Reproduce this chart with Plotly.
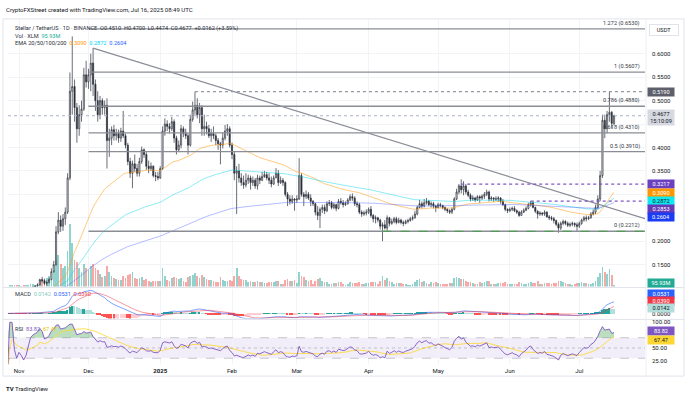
import pandas as pd
import plotly.graph_objects as go

W, H = 687, 398
FONT = "Roboto, 'Liberation Sans', sans-serif"
TXT = "#131722"

# ------------------------------------------------------------------ data
start_date = "2024-10-27"

close_oct = [0.093, 0.094, 0.095, 0.093, 0.091]
high_oct = [0.094, 0.095, 0.097, 0.096, 0.094]
low_oct = [0.091, 0.092, 0.093, 0.092, 0.090]
vol_oct = [60, 70, 80, 70, 60]

close_nov = [0.092, 0.091, 0.089, 0.090, 0.093, 0.099, 0.102, 0.104, 0.107, 0.118,
             0.116, 0.110, 0.112, 0.118, 0.135, 0.150, 0.220, 0.245, 0.232, 0.248,
             0.262, 0.335, 0.520, 0.530, 0.485, 0.440, 0.470, 0.482, 0.555, 0.540]
high_nov = [0.093, 0.093, 0.092, 0.091, 0.094, 0.101, 0.104, 0.106, 0.110, 0.120,
            0.124, 0.120, 0.116, 0.122, 0.142, 0.158, 0.232, 0.262, 0.255, 0.258,
            0.272, 0.345, 0.560, 0.637, 0.545, 0.495, 0.490, 0.500, 0.570, 0.585]
low_nov = [0.089, 0.090, 0.087, 0.088, 0.089, 0.093, 0.098, 0.101, 0.103, 0.106,
           0.112, 0.107, 0.105, 0.110, 0.117, 0.133, 0.148, 0.215, 0.220, 0.222,
           0.235, 0.258, 0.330, 0.470, 0.455, 0.410, 0.425, 0.455, 0.478, 0.528]
vol_nov = [60, 50, 60, 70, 90, 120, 110, 100, 110, 300, 350, 250, 400, 500, 700,
           800, 1300, 1500, 1100, 900, 1000, 1700, 3000, 2100, 1300, 1200, 900, 700, 1100, 900]

close_dec = [0.555, 0.580, 0.535, 0.500, 0.470, 0.500, 0.485, 0.490, 0.415, 0.420,
             0.438, 0.425, 0.430, 0.420, 0.435, 0.425, 0.405, 0.370, 0.345, 0.365,
             0.355, 0.345, 0.370, 0.395, 0.385, 0.360, 0.355, 0.360, 0.340, 0.338, 0.335]
high_dec = [0.568, 0.600, 0.612, 0.545, 0.520, 0.510, 0.505, 0.500, 0.505, 0.440,
            0.445, 0.448, 0.440, 0.438, 0.442, 0.478, 0.430, 0.410, 0.378, 0.372,
            0.385, 0.365, 0.378, 0.402, 0.398, 0.390, 0.372, 0.368, 0.362, 0.348, 0.348]
low_dec = [0.525, 0.520, 0.510, 0.478, 0.455, 0.460, 0.470, 0.470, 0.355, 0.380,
           0.405, 0.415, 0.415, 0.410, 0.412, 0.420, 0.398, 0.362, 0.335, 0.313,
           0.348, 0.338, 0.338, 0.365, 0.378, 0.352, 0.345, 0.350, 0.336, 0.328, 0.330]
vol_dec = [800, 1000, 1100, 900, 800, 600, 450, 500, 1000, 700, 500, 400, 350, 300, 320,
           500, 400, 550, 600, 700, 400, 350, 400, 450, 300, 350, 250, 220, 260, 280, 250]

close_jan = [0.355, 0.435, 0.450, 0.445, 0.440, 0.455, 0.420, 0.395, 0.405, 0.440,
             0.430, 0.425, 0.405, 0.460, 0.480, 0.490, 0.470, 0.485, 0.440, 0.445,
             0.440, 0.425, 0.430, 0.425, 0.415, 0.408, 0.405, 0.420, 0.435, 0.440, 0.405]
high_jan = [0.360, 0.445, 0.462, 0.458, 0.452, 0.465, 0.460, 0.425, 0.415, 0.448,
            0.445, 0.440, 0.430, 0.470, 0.498, 0.519, 0.505, 0.495, 0.490, 0.470,
            0.455, 0.448, 0.440, 0.445, 0.430, 0.420, 0.412, 0.432, 0.448, 0.450, 0.445]
low_jan = [0.333, 0.352, 0.425, 0.435, 0.430, 0.435, 0.410, 0.385, 0.390, 0.398,
           0.422, 0.418, 0.385, 0.402, 0.455, 0.470, 0.462, 0.452, 0.425, 0.425,
           0.428, 0.420, 0.412, 0.418, 0.405, 0.395, 0.364, 0.398, 0.415, 0.425, 0.400]
vol_jan = [250, 900, 500, 300, 250, 400, 450, 400, 350, 400, 250, 220, 450, 500, 550,
           650, 500, 400, 550, 450, 350, 300, 300, 280, 220, 200, 450, 300, 280, 250, 300]

close_feb = [0.385, 0.345, 0.350, 0.335, 0.325, 0.320, 0.330, 0.335, 0.325, 0.330,
             0.318, 0.335, 0.330, 0.338, 0.342, 0.335, 0.330, 0.322, 0.335, 0.345,
             0.325, 0.330, 0.325, 0.300, 0.290, 0.285, 0.290, 0.288]
high_feb = [0.410, 0.392, 0.360, 0.365, 0.345, 0.340, 0.345, 0.342, 0.340, 0.338,
            0.335, 0.342, 0.340, 0.348, 0.350, 0.348, 0.345, 0.338, 0.340, 0.356,
            0.352, 0.338, 0.335, 0.328, 0.305, 0.298, 0.298, 0.292]
low_feb = [0.375, 0.330, 0.258, 0.325, 0.318, 0.312, 0.315, 0.322, 0.310, 0.318,
           0.312, 0.310, 0.322, 0.328, 0.335, 0.330, 0.322, 0.315, 0.320, 0.335,
           0.318, 0.322, 0.318, 0.295, 0.275, 0.278, 0.280, 0.265]
vol_feb = [280, 500, 900, 500, 350, 300, 320, 200, 250, 220, 220, 250, 200, 200, 180,
           170, 200, 220, 200, 250, 280, 150, 150, 300, 380, 280, 250, 330]

close_mar = [0.290, 0.340, 0.300, 0.295, 0.300, 0.292, 0.285, 0.280, 0.262, 0.255,
             0.268, 0.272, 0.265, 0.280, 0.282, 0.272, 0.278, 0.270, 0.285, 0.282,
             0.278, 0.280, 0.288, 0.295, 0.292, 0.280, 0.278, 0.262, 0.258, 0.260, 0.262]
high_mar = [0.298, 0.377, 0.345, 0.305, 0.308, 0.305, 0.300, 0.288, 0.282, 0.275,
            0.272, 0.278, 0.278, 0.285, 0.288, 0.286, 0.282, 0.280, 0.290, 0.292,
            0.288, 0.285, 0.292, 0.300, 0.302, 0.296, 0.285, 0.282, 0.266, 0.265, 0.268]
low_mar = [0.282, 0.288, 0.295, 0.275, 0.290, 0.288, 0.275, 0.275, 0.255, 0.245,
           0.228, 0.260, 0.258, 0.262, 0.275, 0.268, 0.268, 0.264, 0.268, 0.278,
           0.272, 0.275, 0.278, 0.285, 0.286, 0.275, 0.272, 0.258, 0.252, 0.254, 0.255]
vol_mar = [180, 700, 500, 450, 300, 250, 300, 150, 250, 350, 400, 250, 200, 200, 130,
           150, 180, 170, 220, 200, 150, 100, 120, 200, 180, 180, 160, 220, 150, 130, 170]

close_apr = [0.268, 0.255, 0.248, 0.250, 0.245, 0.232, 0.235, 0.228, 0.250, 0.238,
             0.242, 0.248, 0.240, 0.245, 0.240, 0.238, 0.242, 0.244, 0.248, 0.250,
             0.258, 0.272, 0.280, 0.275, 0.282, 0.285, 0.278, 0.280, 0.275, 0.272]
high_apr = [0.272, 0.275, 0.258, 0.255, 0.252, 0.248, 0.240, 0.245, 0.255, 0.252,
            0.248, 0.252, 0.252, 0.250, 0.248, 0.244, 0.246, 0.248, 0.252, 0.255,
            0.265, 0.276, 0.288, 0.285, 0.290, 0.292, 0.288, 0.285, 0.284, 0.278]
low_apr = [0.258, 0.250, 0.240, 0.238, 0.240, 0.225, 0.200, 0.225, 0.222, 0.232,
           0.235, 0.238, 0.236, 0.238, 0.236, 0.232, 0.236, 0.238, 0.242, 0.244,
           0.248, 0.255, 0.270, 0.270, 0.272, 0.278, 0.275, 0.272, 0.270, 0.262]
vol_apr = [180, 220, 200, 220, 120, 250, 500, 300, 400, 280, 200, 150, 180, 170, 160,
           150, 120, 100, 100, 120, 200, 300, 350, 220, 250, 180, 150, 200, 180, 200]

close_may = [0.278, 0.276, 0.272, 0.268, 0.265, 0.262, 0.268, 0.290, 0.305, 0.318,
             0.310, 0.318, 0.305, 0.298, 0.290, 0.292, 0.288, 0.295, 0.292, 0.296,
             0.300, 0.305, 0.290, 0.292, 0.290, 0.290, 0.292, 0.285, 0.278, 0.268, 0.265]
high_may = [0.282, 0.282, 0.278, 0.274, 0.270, 0.268, 0.272, 0.294, 0.312, 0.322,
            0.332, 0.328, 0.322, 0.310, 0.302, 0.298, 0.295, 0.298, 0.298, 0.300,
            0.305, 0.310, 0.308, 0.296, 0.294, 0.296, 0.296, 0.294, 0.290, 0.280, 0.270]
low_may = [0.270, 0.272, 0.268, 0.264, 0.260, 0.258, 0.258, 0.266, 0.288, 0.300,
           0.302, 0.298, 0.300, 0.294, 0.285, 0.286, 0.284, 0.286, 0.282, 0.288,
           0.290, 0.296, 0.285, 0.286, 0.284, 0.286, 0.284, 0.280, 0.275, 0.264, 0.260]
vol_may = [180, 150, 120, 110, 150, 170, 180, 400, 450, 400, 350, 380, 250, 200, 220,
           180, 150, 150, 200, 180, 200, 250, 260, 150, 130, 150, 160, 170, 180, 220, 150]

close_jun = [0.268, 0.270, 0.265, 0.262, 0.255, 0.262, 0.266, 0.270, 0.278, 0.282,
             0.272, 0.264, 0.258, 0.260, 0.258, 0.262, 0.252, 0.250, 0.248, 0.244,
             0.236, 0.228, 0.238, 0.242, 0.238, 0.234, 0.236, 0.238, 0.235, 0.232]
high_jun = [0.272, 0.274, 0.275, 0.268, 0.265, 0.266, 0.270, 0.274, 0.282, 0.286,
            0.285, 0.274, 0.266, 0.264, 0.262, 0.266, 0.264, 0.256, 0.254, 0.252,
            0.246, 0.240, 0.242, 0.246, 0.245, 0.242, 0.240, 0.242, 0.240, 0.240]
low_jun = [0.262, 0.264, 0.262, 0.258, 0.252, 0.254, 0.260, 0.264, 0.268, 0.274,
           0.270, 0.260, 0.248, 0.254, 0.254, 0.254, 0.250, 0.245, 0.244, 0.238,
           0.232, 0.218, 0.224, 0.234, 0.234, 0.230, 0.230, 0.232, 0.230, 0.222]
vol_jun = [120, 150, 140, 150, 200, 170, 120, 110, 180, 200, 180, 170, 250, 140, 110,
           160, 180, 160, 130, 160, 180, 250, 250, 200, 160, 150, 140, 100, 110, 160]

close_jul = [0.238, 0.245, 0.250, 0.248, 0.250, 0.258, 0.262, 0.272, 0.290, 0.340,
             0.458, 0.440, 0.470, 0.475, 0.4515, 0.4677]
high_jul = [0.242, 0.248, 0.254, 0.255, 0.254, 0.262, 0.268, 0.278, 0.298, 0.350,
            0.470, 0.470, 0.478, 0.519, 0.478, 0.4700]
low_jul = [0.228, 0.235, 0.242, 0.242, 0.245, 0.248, 0.255, 0.258, 0.268, 0.285,
           0.335, 0.420, 0.430, 0.455, 0.440, 0.4474]
vol_jul = [170, 200, 180, 170, 120, 150, 170, 250, 450, 650, 950, 700, 600, 850, 550, 95.93]
last_open = 0.4510

# drawings (levels)
fib_levels = [0.6530, 0.5607, 0.4880, 0.4310, 0.3910, 0.2212]
fib_names = ["1.272", "1", "0.786", "0.618", "0.5", "0"]
fib_start = "2024-12-01"
trend_pts = [("2024-12-03", 0.612), ("2025-07-29 09:00", 0.248)]
dotted_levels = [  # (start date, price, colour, dash)
    ("2025-01-16", 0.5190, "#9598a1", "dot"),
    ("2025-05-11", 0.3217, "#7e57c2", "dot"),
    ("2025-06-10", 0.2853, "#7e57c2", "dot"),
    ("2025-04-07", 0.2212, "#43a047", "dash"),
]
current_price = 0.4677

price_ticks = [0.15, 0.20, 0.25, 0.30, 0.35, 0.40, 0.45, 0.50, 0.55, 0.60]
price_tick_text = ["0.1500", "0.2000", "", "", "0.3500", "0.4000", "", "0.5000", "0.5500", "0.6000"]
month_ticks = ["2024-11-01", "2024-12-01", "2025-01-01", "2025-02-01", "2025-03-01",
               "2025-04-01", "2025-05-01", "2025-06-01", "2025-07-01"]
month_text = ["Nov", "Dec", "<b>2025</b>", "Feb", "Mar", "Apr", "May", "Jun", "Jul"]

# ------------------------------------------------------------------ assemble
closes = close_oct + close_nov + close_dec + close_jan + close_feb + close_mar + close_apr + close_may + close_jun + close_jul
highs = high_oct + high_nov + high_dec + high_jan + high_feb + high_mar + high_apr + high_may + high_jun + high_jul
lows = low_oct + low_nov + low_dec + low_jan + low_feb + low_mar + low_apr + low_may + low_jun + low_jul
vols = vol_oct + vol_nov + vol_dec + vol_jan + vol_feb + vol_mar + vol_apr + vol_may + vol_jun + vol_jul
n = len(closes)
assert len(highs) == n and len(lows) == n and len(vols) == n, (n, len(highs), len(lows), len(vols))
dates = pd.date_range(start_date, periods=n, freq="D")
opens = [closes[0]] + closes[:-1]
opens[-1] = last_open

s = pd.Series(closes, index=dates)
ema50 = s.ewm(span=50, adjust=False).mean()
ema100 = s.ewm(span=100, adjust=False).mean()
ema200 = s.ewm(span=200, adjust=False).mean()
macd = s.ewm(span=12, adjust=False).mean() - s.ewm(span=26, adjust=False).mean()
signal = macd.ewm(span=9, adjust=False).mean()
hist = macd - signal
d = s.diff().fillna(0)
up = d.clip(lower=0).ewm(alpha=1 / 14, adjust=False).mean()
dn = (-d.clip(upper=0)).ewm(alpha=1 / 14, adjust=False).mean()
rsi = 100 - 100 / (1 + up / dn.replace(0, 1e-9))
rsi_ma = rsi.rolling(14, min_periods=1).mean()

# ------------------------------------------------------------------ geometry
X_L, X_R = 8, 645
MAIN_T, MAIN_B = 18, 286
MACD_T, MACD_B = 288, 318
RSI_T, RSI_B = 320, 364
x_range = ["2024-10-27 06:00", "2025-07-29 09:00"]
price_range = [0.1032, 0.6722]
vol_range = [0, 12800]
rsi_range = [18.5, 103.7]
mhi = float(max(macd.max(), signal.max(), hist.max())) * 1.08
macd_range = [-mhi * 0.2, mhi]


def yp(v):
    return 1 - v / H


def xp(v):
    return v / W


day_ms = 86400000
fig = go.Figure()

vol_colors = ["rgba(38,166,154,0.5)" if c >= o else "rgba(239,83,80,0.5)" for o, c in zip(opens, closes)]
fig.add_trace(go.Bar(x=dates, y=vols, marker=dict(color=vol_colors, line=dict(width=0)),
                     width=0.75 * day_ms, xaxis="x", yaxis="y", hoverinfo="skip"))

fig.add_trace(go.Candlestick(
    x=dates, open=opens, high=highs, low=lows, close=closes, xaxis="x", yaxis="y2",
    increasing=dict(line=dict(color="#2a2e39", width=0.7), fillcolor="#ffffff"),
    decreasing=dict(line=dict(color="#2a2e39", width=0.7), fillcolor="#2a2e39"),
    whiskerwidth=0, hoverinfo="skip"))

for ser, col in [(ema50, "rgba(255,152,0,0.5)"), (ema100, "rgba(0,210,230,0.45)"),
                 (ema200, "rgba(70,90,255,0.4)")]:
    fig.add_trace(go.Scatter(x=dates, y=ser, mode="lines", line=dict(color=col, width=1),
                             xaxis="x", yaxis="y2", hoverinfo="skip"))

hist_colors = []
prev = 0.0
for h in hist:
    if h >= 0:
        hist_colors.append("#26a69a" if h >= prev else "#b2dfdb")
    else:
        hist_colors.append("#ffcdd2" if h >= prev else "#ff5252")
    prev = h
fig.add_trace(go.Bar(x=dates, y=hist, marker=dict(color=hist_colors, line=dict(width=0)),
                     width=0.75 * day_ms, xaxis="x2", yaxis="y3", hoverinfo="skip"))
fig.add_trace(go.Scatter(x=dates, y=macd, mode="lines", line=dict(color="rgba(41,98,255,0.6)", width=1),
                         xaxis="x2", yaxis="y3", hoverinfo="skip"))
fig.add_trace(go.Scatter(x=dates, y=signal, mode="lines", line=dict(color="rgba(242,54,69,0.5)", width=1),
                         xaxis="x2", yaxis="y3", hoverinfo="skip"))

# RSI zone fills
fig.add_trace(go.Scatter(x=dates, y=[70] * n, mode="lines", line=dict(width=0), xaxis="x3", yaxis="y4", hoverinfo="skip"))
fig.add_trace(go.Scatter(x=dates, y=rsi.clip(lower=70), mode="lines", line=dict(width=0), fill="tonexty",
                         fillcolor="rgba(56,160,70,0.35)", xaxis="x3", yaxis="y4", hoverinfo="skip"))
fig.add_trace(go.Scatter(x=dates, y=[30] * n, mode="lines", line=dict(width=0), xaxis="x3", yaxis="y4", hoverinfo="skip"))
fig.add_trace(go.Scatter(x=dates, y=rsi.clip(upper=30), mode="lines", line=dict(width=0), fill="tonexty",
                         fillcolor="rgba(240,60,60,0.3)", xaxis="x3", yaxis="y4", hoverinfo="skip"))
fig.add_trace(go.Scatter(x=dates, y=rsi_ma, mode="lines", line=dict(color="rgba(253,216,53,0.85)", width=1),
                         xaxis="x3", yaxis="y4", hoverinfo="skip"))
fig.add_trace(go.Scatter(x=dates, y=rsi, mode="lines", line=dict(color="rgba(126,87,194,0.9)", width=1),
                         xaxis="x3", yaxis="y4", hoverinfo="skip"))

# ------------------------------------------------------------------ shapes
shapes = []
for lv in fib_levels:
    shapes.append(dict(type="line", xref="x", yref="y2", x0=fib_start, x1=x_range[1], y0=lv, y1=lv,
                       line=dict(color="#8a8d96", width=1.3)))
shapes.append(dict(type="line", xref="x", yref="y2", x0=trend_pts[0][0], y0=trend_pts[0][1],
                   x1=trend_pts[1][0], y1=trend_pts[1][1], line=dict(color="#8a8d96", width=1.2)))
for d0, lv, col, dash in dotted_levels:
    shapes.append(dict(type="line", xref="x", yref="y2", x0=d0, x1=x_range[1], y0=lv, y1=lv,
                       line=dict(color=col, width=1.2, dash=dash)))
shapes.append(dict(type="line", xref="x", yref="y2", x0=x_range[0], x1=x_range[1], y0=current_price,
                   y1=current_price, line=dict(color="#a9b3c9", width=1, dash="dot")))
# RSI band
shapes.append(dict(type="rect", xref="paper", yref="y4", x0=xp(X_L), x1=xp(X_R), y0=30, y1=70,
                   fillcolor="rgba(126,87,194,0.1)", line=dict(width=0), layer="below"))
for lv, dash in [(70, "dash"), (50, "dot"), (30, "dash")]:
    shapes.append(dict(type="line", xref="paper", yref="y4", x0=xp(X_L), x1=xp(X_R), y0=lv, y1=lv,
                       line=dict(color="rgba(120,123,134,0.5)", width=0.8, dash=dash)))
# frame & separators
shapes.append(dict(type="rect", xref="paper", yref="paper", x0=xp(3), x1=xp(684), y0=yp(376), y1=yp(17),
                   line=dict(color="#e0e3eb", width=1)))
for yy in [287, 319]:
    shapes.append(dict(type="line", xref="paper", yref="paper", x0=xp(3), x1=xp(684), y0=yp(yy), y1=yp(yy),
                       line=dict(color="#e0e3eb", width=1)))
shapes.append(dict(type="line", xref="paper", yref="paper", x0=xp(646), x1=xp(646), y0=yp(376), y1=yp(17),
                   line=dict(color="#eceef2", width=1)))

# ------------------------------------------------------------------ annotations
ann = []


def label(text, x, y, size=6, color=TXT, xanchor="left", **kw):
    ann.append(dict(text=text, x=xp(x), y=yp(y), xref="paper", yref="paper", xanchor=xanchor,
                    yanchor="middle", showarrow=False, font=dict(size=size, color=color, family=FONT), **kw))


def badge(text, y, bg, fg="#ffffff", height=7):
    label(text, 647, y, size=5.6, color=fg, bgcolor=bg, borderpad=0.5, width=25, height=height, align="center")


def span(t, c):
    return f"<span style='color:{c}'>{t}</span>"


label("CryptoFXStreet created with TradingView.com, Jul 16, 2025 08:49 UTC", 4, 8, size=6)
label("Stellar / TetherUS · 1D · BINANCE  O0.4510  H0.4700  L0.4474  C0.4677  +0.0162 (+3.59%)", 13, 26.5, size=5.6,
      color="#2a2e39")
label("Vol · XLM  " + span("95.93M", "#22ab94"), 13, 34, size=5.6, color="#2a2e39")
label("EMA 20/50/100/200  " + span("0.3090", "#ff9800") + "  " + span("0.2872", "#00d4ee") + "  "
      + span("0.2604", "#2962ff"), 13, 41.5, size=5.6, color="#2a2e39")
label("MACD  " + span("0.0142", "#80cbc4") + "  " + span("0.0531", "#2962ff") + "  " + span("0.0390", "#f23645"),
      13, 293.5, size=5.6, color="#2a2e39")
label("RSI  " + span("83.82", "#7e57c2") + "  " + span("67.47", "#e8c000"), 13, 328.5, size=5.6, color="#2a2e39")
label("<b>TV</b> TradingView", 4, 388, size=6, color="#131722")

for lv, nm in zip(fib_levels, fib_names):
    ann.append(dict(text=f"{nm} ({lv:.4f})", x=xp(642), xref="paper", y=lv, yref="y2", xanchor="right",
                    yanchor="bottom", yshift=0, showarrow=False, font=dict(size=5.6, color="#363a45", family=FONT)))

label("USDT", 664, 28, size=5.6, xanchor="center", bgcolor="#ffffff", bordercolor="#e0e3eb", borderwidth=1,
      borderpad=2, width=24)
badge("0.5190", 90, "#5d606b")
badge("0.4677<br>15:10:09", 116, "#d6d9e2", fg=TXT, height=14)
badge("0.3217", 183, "#6a3fc0")
badge("0.3090", 192, "#ff9800")
badge("0.2872", 200, "#10e8f0", fg=TXT)
badge("0.2853", 208, "#673ab7")
badge("0.2604", 216, "#1a3cf5")
badge("95.93M", 282.5, "#22ab94")
badge("0.0531", 293, "#2962ff")
badge("0.0390", 300.5, "#f23645")
badge("0.0142", 308, "#b2dfdb", fg=TXT)
badge("83.82", 331, "#7e57c2")
badge("67.47", 340, "#fdd835", fg=TXT)

# ------------------------------------------------------------------ layout
grid = "#f1f3f7"
xdom = [xp(X_L), xp(X_R)]
common_x = dict(domain=xdom, range=x_range, tickvals=month_ticks, showgrid=True, gridcolor=grid,
                zeroline=False, showline=False, ticks="", type="date")
axis_font = dict(size=6, color=TXT, family=FONT)
fig.update_layout(
    width=W, height=H, margin=dict(l=0, r=0, t=0, b=0), showlegend=False,
    paper_bgcolor="#ffffff", plot_bgcolor="#ffffff", font=dict(family=FONT, size=6, color=TXT),
    xaxis=dict(common_x, anchor="y", showticklabels=False, rangeslider=dict(visible=False)),
    yaxis=dict(domain=[yp(MAIN_B), yp(MAIN_T)], range=vol_range, visible=False, anchor="x",
               fixedrange=True),
    yaxis2=dict(overlaying="y", anchor="x", side="right", range=price_range, tickvals=price_ticks,
                ticktext=price_tick_text, showgrid=True, gridcolor=grid, zeroline=False,
                ticks="", tickfont=axis_font, ticklabelstandoff=6),
    xaxis2=dict(common_x, anchor="y3", showticklabels=False),
    yaxis3=dict(domain=[yp(MACD_B), yp(MACD_T)], anchor="x2", side="right", range=macd_range,
                tickvals=[0], ticktext=["0.0000"], showgrid=False, zeroline=False, ticks="",
                tickfont=axis_font, ticklabelstandoff=6),
    xaxis3=dict(common_x, anchor="y4", showticklabels=True, ticktext=month_text, tickfont=axis_font,
                ticklabelstandoff=2),
    yaxis4=dict(domain=[yp(RSI_B), yp(RSI_T)], anchor="x3", side="right", range=rsi_range,
                tickvals=[25, 50, 100], ticktext=["25.00", "50.00", "100.00"], showgrid=False,
                zeroline=False, ticks="", tickfont=axis_font, ticklabelstandoff=6),
    shapes=shapes, annotations=ann, bargap=0,
)

fig.write_html("out.html", config={"displayModeBar": False},
               post_script="document.body.style.margin='0px';")
